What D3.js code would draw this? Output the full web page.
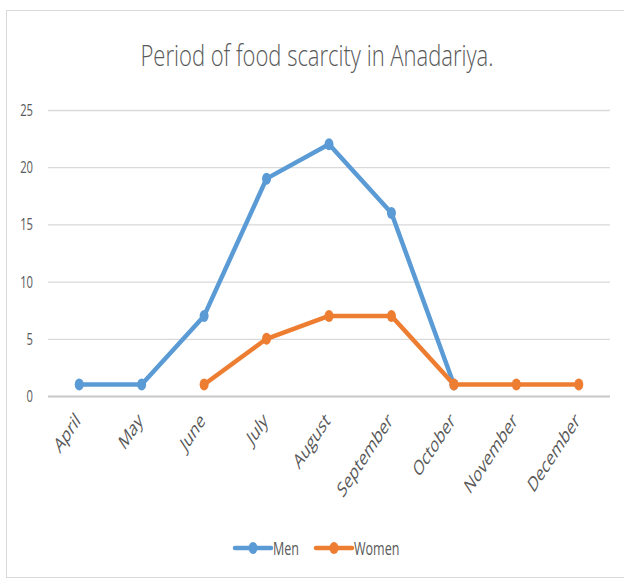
<!DOCTYPE html>
<html><head><meta charset="utf-8">
<script src="https://cdn.jsdelivr.net/npm/d3@7"></script>
<style>body{margin:0;background:#fff}svg{display:block}</style>
</head><body><svg id="c" width="624" height="580"></svg>
<script>
const months = ["April","May","June","July","August","September","October","November","December"];
const men = [1,1,7,19,22,16,1,null,null];
const women = [null,null,1,5,7,7,1,1,1];
const yTicks = [0,5,10,15,20,25];
const title = "Period of food scarcity in Anadariya.";
const seriesNames = ["Men","Women"];
const colors = ["#5B9BD5","#ED7D31"];

const SX = 0.66; // horizontal squash of the original picture
const svg = d3.select("#c");
const font = "'Open Sans',sans-serif";
const txtCol = "#595959";
svg.append("rect").attr("x",6.5).attr("y",10.5).attr("width",640).attr("height",567).attr("fill","#fff").attr("stroke","#d9d9d9");

const x = d3.scaleBand().domain(months).range([48,610]);
const y = d3.scaleLinear().domain([0,25]).range([396,110]);
const cx = m => x(m) + x.bandwidth()/2;

svg.append("text").attr("x",317).attr("y",66).attr("text-anchor","middle")
  .attr("font-family",font).attr("font-weight",300).attr("font-size",29).attr("fill",txtCol)
  .attr("textLength",353).attr("lengthAdjust","spacingAndGlyphs").text(title);

// y gridlines via axis
const ya = svg.append("g").attr("transform","translate(48,0)")
  .call(d3.axisLeft(y).tickValues(yTicks).tickSize(-562).tickFormat(""));
ya.select(".domain").remove();
ya.selectAll(".tick line").attr("stroke","#d9d9d9").attr("stroke-width",1.3);
ya.selectAll(".tick").filter(d=>d===0).select("line").attr("stroke","#c8c8c8").attr("stroke-width",1.8);
// y labels
svg.append("g").selectAll("text").data(yTicks).join("text")
  .attr("transform",d=>`translate(33,${y(d)+6}) scale(${SX},1)`)
  .attr("text-anchor","end").attr("font-family",font).attr("font-size",17).attr("fill",txtCol)
  .text(d=>d);

// x labels
svg.append("g").selectAll("text").data(months).join("text")
  .attr("transform",d=>`translate(${cx(d)+2},${422}) scale(${SX},1) rotate(-45)`)
  .attr("text-anchor","end").attr("font-family",font).attr("font-size",21).attr("fill",txtCol)
  .text(d=>d);

const data = [men, women];
data.forEach((vals,i)=>{
  const pts = vals.map((v,j)=>({m:months[j],v})).filter(d=>d.v!==null);
  const line = d3.line().x(d=>cx(d.m)).y(d=>y(d.v));
  svg.append("path").attr("d",line(pts)).attr("fill","none").attr("stroke",colors[i])
    .attr("stroke-width",4.5).attr("stroke-linejoin","round").attr("stroke-linecap","round");
  svg.append("g").selectAll("ellipse").data(pts).join("ellipse")
    .attr("cx",d=>cx(d.m)).attr("cy",d=>y(d.v)).attr("rx",4.5).attr("ry",6).attr("fill",colors[i]);
});

const leg = [234,315];
seriesNames.forEach((n,i)=>{
  const g = svg.append("g");
  g.append("line").attr("x1",leg[i]+1).attr("x2",leg[i]+37).attr("y1",548).attr("y2",548)
    .attr("stroke",colors[i]).attr("stroke-width",4.5).attr("stroke-linecap","round");
  g.append("ellipse").attr("cx",leg[i]+19).attr("cy",548).attr("rx",4.5).attr("ry",6).attr("fill",colors[i]);
  g.append("text").attr("transform",`translate(${leg[i]+39},555) scale(${SX},1)`)
    .attr("font-family",font).attr("font-size",19).attr("fill",txtCol).text(n);
});
</script></body></html>
